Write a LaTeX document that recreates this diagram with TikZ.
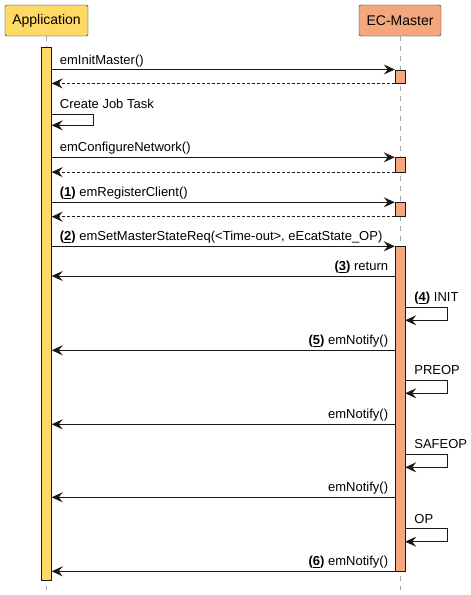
\documentclass[tikz,border=0pt]{standalone}
\usepackage{fontspec}
\setmainfont{Liberation Sans}
\usetikzlibrary{arrows.meta, positioning}
\definecolor{appYellow}{RGB}{254,217,102}
\definecolor{ecmSalmon}{RGB}{244,167,125}
\definecolor{umlLine}{RGB}{24,24,24}
\newcommand{\seqno}[1]{\textbf{(\underline{#1})}}
\tikzset{
    participant/.style = {
        draw=umlLine, rounded corners=2pt, minimum width=83pt, minimum height=31pt,
        inner sep=0pt, font=\fontsize{14}{16}\selectfont
    },
    lifeline/.style = {draw=gray!70, dash pattern=on 5pt off 5pt, line width=0.7pt},
    activation/.style = {draw=umlLine, minimum width=10pt, inner sep=0pt, anchor=north},
    msg/.style = {draw=umlLine, line width=0.9pt, -{Stealth[length=11pt, width=10pt, inset=4pt]}},
    reply/.style = {msg, dash pattern=on 2.5pt off 2.5pt},
    msglabel/.style = {font=\fontsize{13}{15}\selectfont, inner sep=0pt},
}

\begin{document}
\begin{tikzpicture}[x=1pt, y=-1pt]
    \useasboundingbox (0,0) rectangle (471,595);

    % Participants
    \node[participant, fill=appYellow] (app) at (46.5,20.5) {Application};
    \node[participant, fill=ecmSalmon, minimum width=82pt] (ecm) at (400,20.5) {EC-Master};

    % Lifelines
    \coordinate (appEnd) at (app.south |- 0,590);
    \coordinate (ecmEnd) at (ecm.south |- 0,590);
    \draw[lifeline] (app) -- (appEnd);
    \draw[lifeline] (ecm) -- (ecmEnd);

    % Activation bars
    \node[activation, fill=appYellow, minimum height=533pt] (appAct) at (46.5,47) {};
    \foreach \top/\h [count=\k] in {69.5/13.5, 157.3/14.4, 202.3/14}{
        \node[activation, fill=ecmSalmon, minimum height=\h pt] (ecmAct\k) at (ecm.south |- 0,\top) {};
    }
    \node[activation, fill=ecmSalmon, minimum height=325pt] (ecmRun) at (ecm.south |- 0,246.3) {};

    % Calls with replies
    \foreach \txt [count=\k] in {emInitMaster(), emConfigureNetwork(), {\seqno{1} emRegisterClient()}}{
        \draw[msg] (appAct.east |- ecmAct\k.north) coordinate (call\k) -- (ecmAct\k.north west);
        \draw[reply] (ecmAct\k.south west) -- (appAct.east |- ecmAct\k.south);
        \node[msglabel, anchor=base west] (callText\k) at ([xshift=8pt, yshift=5.5pt]call\k) {\txt};
    }

    % Self call on the application
    \draw[msg] (appAct.east |- 0,114.3) coordinate (job) -- ++(42,0) -- ++(0,11) -- ++(-42,0);
    \node[msglabel, anchor=base west] (jobText) at ([xshift=8pt, yshift=5.5pt]job) {Create Job Task};

    % State request
    \draw[msg] (appAct.east |- ecmRun.north) coordinate (req) -- (ecmRun.north west);
    \node[msglabel, anchor=base west] (reqText) at ([xshift=8pt, yshift=5.5pt]req)
        {\seqno{2} emSetMasterStateReq(<Time-out>, eEcatState\_OP)};

    % Answers to the application
    \foreach \y/\txt [count=\k] in {276/{\seqno{3} return}, 350.3/{\seqno{5} emNotify()},
        424.3/emNotify(), 497.3/emNotify(), 571.3/{\seqno{6} emNotify()}}{
        \draw[msg] (ecmRun.west |- 0,\y) coordinate (ans\k) -- (appAct.east |- 0,\y);
        \node[msglabel, anchor=base east] (ansText\k) at ([xshift=-6.5pt, yshift=5.5pt]ans\k) {\txt};
    }

    % State changes of the master
    \foreach \y/\txt [count=\k] in {307.3/{\seqno{4} INIT}, 380.3/PREOP, 454.3/SAFEOP, 528.7/OP}{
        \draw[msg] (ecmRun.east |- 0,\y) coordinate (state\k) -- ++(42.7,0) -- ++(0,13) -- ++(-42.7,0);
        \node[msglabel, anchor=base west] (stateText\k) at ([xshift=9pt, yshift=5.5pt]state\k) {\txt};
    }
\end{tikzpicture}
\end{document}
